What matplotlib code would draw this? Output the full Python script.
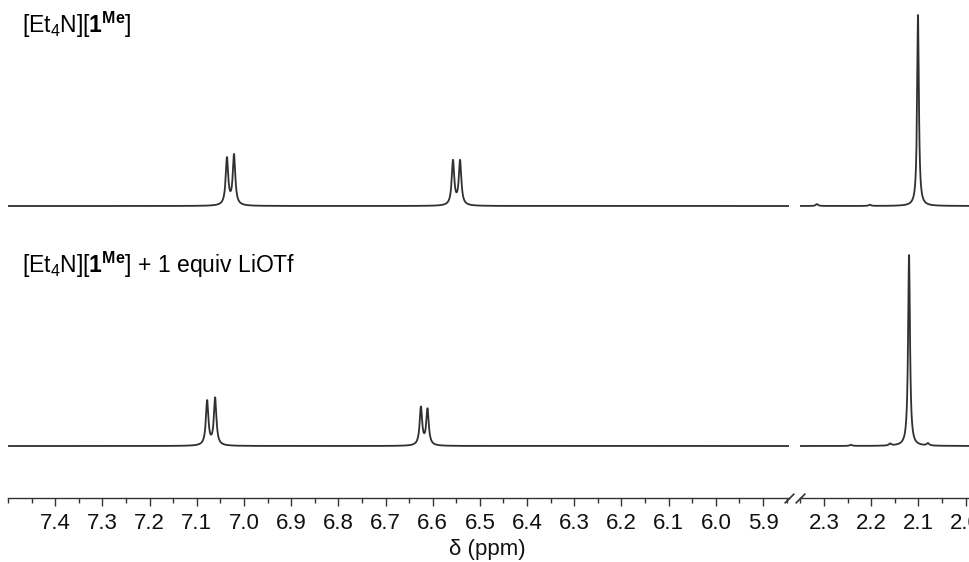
import matplotlib
matplotlib.use('Agg')
import matplotlib.pyplot as plt
import numpy as np

plt.rcParams['font.family'] = ['Liberation Sans', 'DejaVu Sans']
plt.rcParams['mathtext.fontset'] = 'custom'
plt.rcParams['mathtext.rm'] = 'Liberation Sans'
plt.rcParams['mathtext.it'] = 'Liberation Sans:italic'
plt.rcParams['mathtext.bf'] = 'Liberation Sans:bold'

# Spectrum labels
labels = ['[Et$_4$N][$\\mathbf{1^{Me}}$]',
          '[Et$_4$N][$\\mathbf{1^{Me}}$] + 1 equiv LiOTf']

# Peak lists (ppm, relative intensity; tallest singlet = 1, half-width in ppm)
top_ppm = [7.036, 7.021, 6.557, 6.542, 2.315, 2.203, 2.101]
top_int = [0.245, 0.262, 0.232, 0.232, 0.010, 0.006, 1.00]
top_hw = [0.0032, 0.0032, 0.0032, 0.0032, 0.003, 0.003, 0.0022]
bot_ppm = [7.078, 7.061, 6.625, 6.611, 2.243, 2.160, 2.120, 2.080]
bot_int = [0.232, 0.247, 0.198, 0.188, 0.006, 0.010, 1.00, 0.012]
bot_hw = [0.0032, 0.0032, 0.0032, 0.0032, 0.003, 0.003, 0.0024, 0.003]

# Axis windows (ppm) and ticks
left_range = (7.5, 5.845)
right_range = (2.351, 1.993)
left_ticks = [7.4, 7.3, 7.2, 7.1, 7.0, 6.9, 6.8, 6.7, 6.6, 6.5, 6.4, 6.3, 6.2, 6.1, 6.0, 5.9]
right_ticks = [2.3, 2.2, 2.1, 2.0]


def lorentz_sum(x, centres, heights, hwhm):
    """Build a lineshape spectrum from a peak list."""
    y = np.zeros_like(x)
    for c, h, g in zip(centres, heights, hwhm):
        y += h / (1.0 + ((x - c) / g) ** 2)
    return y


W, H = 969, 562
fig = plt.figure(figsize=(W / 100, H / 100), dpi=100)

axis_px = 498          # pixel row of the ppm axis
top_base = axis_px - 206
bot_base = axis_px - 446
scale = 191            # pixel height of a unit-intensity peak
line_col = '#303030'

ax_l = fig.add_axes([8 / W, (H - axis_px) / H, (789 - 8) / W, axis_px / H])
ax_r = fig.add_axes([800 / W, (H - axis_px) / H, (W - 800) / W, axis_px / H])

for ax, rng, ticks in [(ax_l, left_range, left_ticks), (ax_r, right_range, right_ticks)]:
    x = np.linspace(rng[1], rng[0], 8000)
    ax.plot(x, top_base + scale * lorentz_sum(x, top_ppm, top_int, top_hw), color=line_col, lw=1.3)
    ax.plot(x, bot_base + scale * lorentz_sum(x, bot_ppm, bot_int, bot_hw), color=line_col, lw=1.3)
    ax.set_xlim(rng[0], rng[1])
    ax.set_ylim(0, axis_px)
    ax.set_xticks(ticks)
    ax.set_xticklabels(['%.1f' % t for t in ticks])
    minors = np.arange(round(rng[1] * 20) / 20, rng[0] + 0.001, 0.05)
    ax.set_xticks(minors, minor=True)
    ax.set_yticks([])
    for s in ['top', 'left', 'right']:
        ax.spines[s].set_visible(False)
    ax.spines['bottom'].set_color('#333333')
    ax.spines['bottom'].set_linewidth(1.0)
    ax.tick_params(axis='x', which='major', length=6, width=1.0, color='#333333',
                   labelsize=16, pad=5, labelcolor='#111111')
    ax.tick_params(axis='x', which='minor', length=3.5, width=1.0, color='#333333')
    ax.patch.set_alpha(0)

# Axis break marks
brk = dict(marker=[(-1, -1), (1, 1)], markersize=7, linestyle='none',
           color='#333333', mec='#333333', mew=1.2, clip_on=False)
ax_l.plot([1], [0], transform=ax_l.transAxes, **brk)
ax_r.plot([0], [0], transform=ax_r.transAxes, **brk)

# Spectrum labels
fig.text(22 / W, 1 - 25 / H, labels[0], fontsize=16.5, va='center', ha='left')
fig.text(22 / W, 1 - 265 / H, labels[1], fontsize=16.5, va='center', ha='left')

fig.text(487 / W, 1 - 550 / H, 'δ (ppm)', fontsize=16, ha='center', va='center', color='#111111')

fig.savefig('out.png', dpi=100)
